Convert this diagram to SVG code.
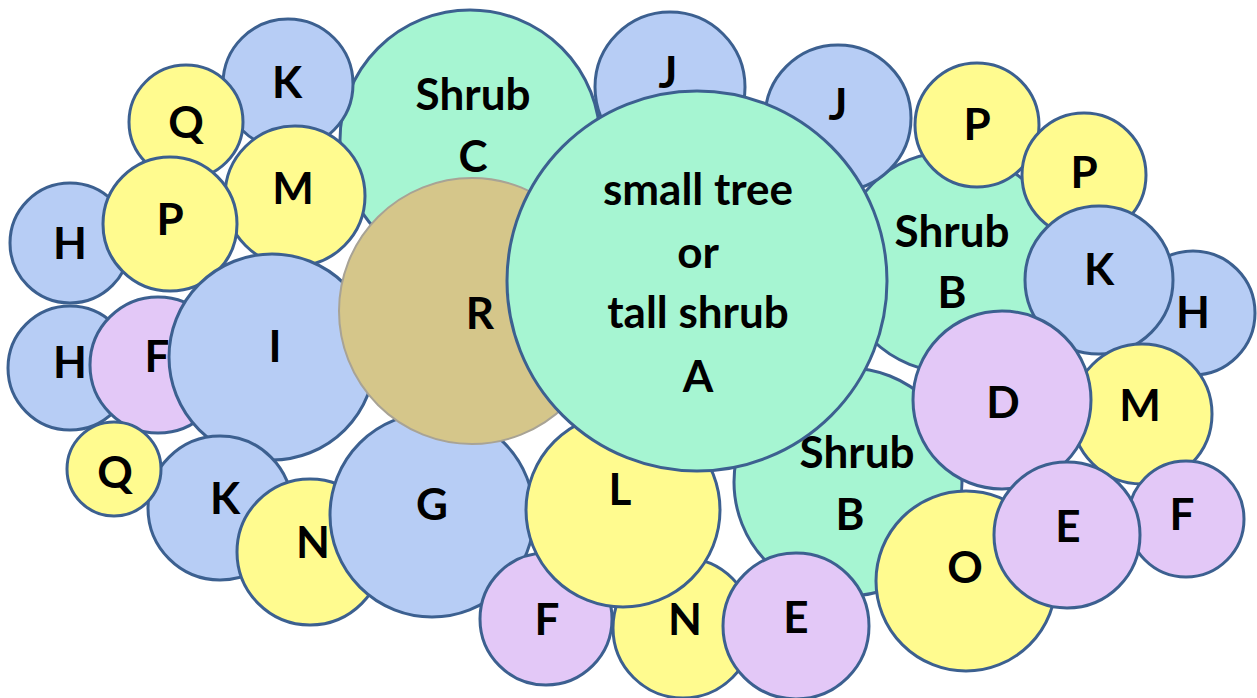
<svg xmlns="http://www.w3.org/2000/svg" width="1257" height="698" viewBox="0 0 1257 698">
<style>
circle{stroke:#3C6090;stroke-width:3}
.b{fill:#B7CDF5}.y{fill:#FFFB8F}.g{fill:#A6F5D2}.p{fill:#E3C8F7}
.t{fill:#D5C68A;stroke:#A8A395;stroke-width:2}
text{font-family:Lato,"Open Sans","Liberation Sans",sans-serif;font-weight:bold;font-size:44px;fill:#000;text-anchor:middle}
</style>
<rect width="1257" height="698" fill="#fff"/>
<g id="shrubC"><circle class="g" cx="470" cy="140" r="130"/><text x="473" y="110">Shrub</text><text x="473" y="172">C</text></g>
<g id="K1"><circle class="b" cx="288" cy="84" r="65"/><text x="287" y="98">K</text></g>
<g id="Q1"><circle class="y" cx="186" cy="122" r="57"/><text x="186" y="138">Q</text></g>
<g id="H1"><circle class="b" cx="70" cy="243" r="60"/><text x="70" y="259">H</text></g>
<g id="M1"><circle class="y" cx="295" cy="196" r="70"/><text x="293" y="204">M</text></g>
<g id="P1"><circle class="y" cx="170" cy="224" r="67"/><text x="170" y="235">P</text></g>
<g id="H2"><circle class="b" cx="70" cy="368" r="62"/><text x="70" y="378">H</text></g>
<g id="F1"><circle class="p" cx="158" cy="365" r="68"/><text x="157" y="372">F</text></g>
<g id="I"><circle class="b" cx="272" cy="357" r="103"/><text x="275" y="362">I</text></g>
<g id="K2"><circle class="b" cx="220" cy="508" r="72"/><text x="225" y="514">K</text></g>
<g id="Q2"><circle class="y" cx="114" cy="469" r="47"/><text x="115" y="488">Q</text></g>
<g id="N1"><circle class="y" cx="310" cy="552" r="73"/><text x="313" y="558">N</text></g>
<g id="G"><circle class="b" cx="432" cy="515" r="102"/><text x="432" y="520">G</text></g>
<g id="R"><circle class="t" cx="472" cy="311" r="133"/><text x="480" y="329">R</text></g>
<g id="F2"><circle class="p" cx="546" cy="619" r="66"/><text x="547" y="635">F</text></g>
<g id="N2"><circle class="y" cx="683" cy="628" r="70"/><text x="685" y="635">N</text></g>
<g id="L"><circle class="y" cx="623" cy="510" r="97"/><text x="620" y="505">L</text></g>
<g id="J1"><circle class="b" cx="670" cy="87" r="75"/><text x="668" y="88">J</text></g>
<g id="shrubB1"><circle class="g" cx="950" cy="262" r="110"/><text x="952" y="247">Shrub</text><text x="952" y="308">B</text></g>
<g id="J2"><circle class="b" cx="838" cy="118" r="73"/><text x="838" y="120">J</text></g>
<g id="shrubB2"><circle class="g" cx="848" cy="482" r="114"/><text x="857" y="468">Shrub</text><text x="850" y="530">B</text></g>
<g id="E1"><circle class="p" cx="796" cy="626" r="73"/><text x="796" y="633">E</text></g>
<g id="A"><circle class="g" cx="697" cy="281" r="190"/><text x="698" y="205">small tree</text><text x="698" y="268">or</text><text x="698" y="328">tall shrub</text><text x="698" y="392">A</text></g>
<g id="P2"><circle class="y" cx="977" cy="125" r="62"/><text x="977" y="140">P</text></g>
<g id="P3"><circle class="y" cx="1084" cy="175" r="62"/><text x="1084" y="188">P</text></g>
<g id="H3"><circle class="b" cx="1193" cy="313" r="62"/><text x="1193" y="328">H</text></g>
<g id="K3"><circle class="b" cx="1099" cy="280" r="74"/><text x="1099" y="285">K</text></g>
<g id="M2"><circle class="y" cx="1142" cy="414" r="70"/><text x="1140" y="421">M</text></g>
<g id="D"><circle class="p" cx="1002" cy="400" r="89"/><text x="1003" y="418">D</text></g>
<g id="F3"><circle class="p" cx="1186" cy="519" r="58"/><text x="1182" y="530">F</text></g>
<g id="O"><circle class="y" cx="966" cy="581" r="90"/><text x="965" y="583">O</text></g>
<g id="E2"><circle class="p" cx="1067" cy="535" r="73"/><text x="1068" y="542">E</text></g>
<g id="connectors"/>
</svg>
